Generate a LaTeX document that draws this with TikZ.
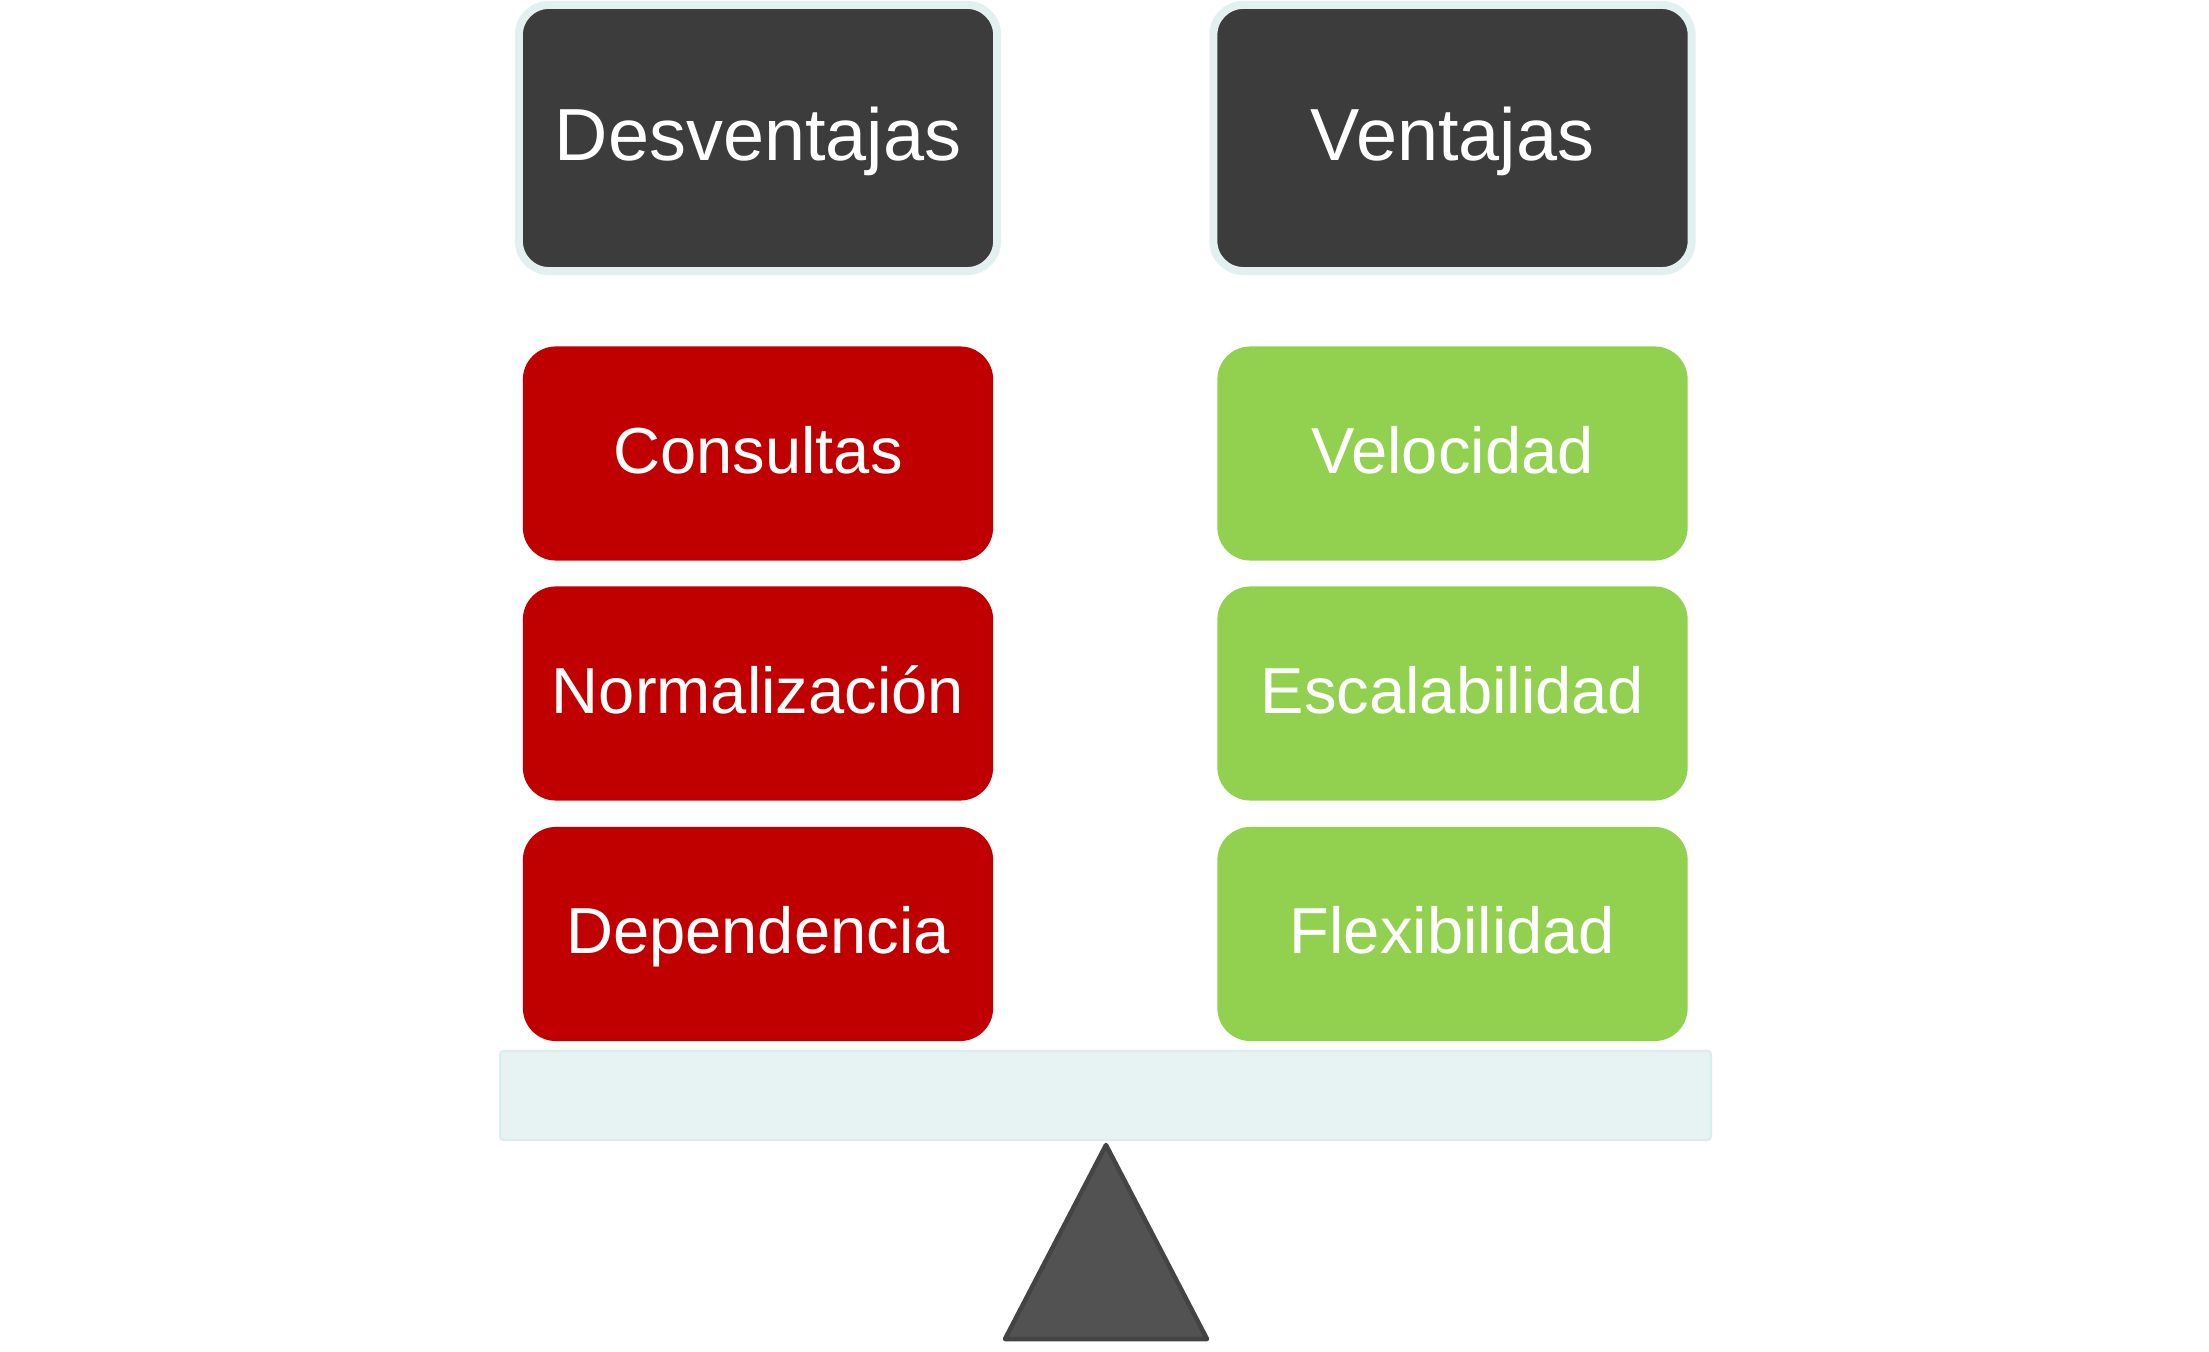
\documentclass[tikz,border=0pt]{standalone}
\usepackage{fontspec}
\setmainfont{Liberation Sans}
\definecolor{hdark}{HTML}{3C3C3C}
\definecolor{hedge}{HTML}{E2F0F0}
\definecolor{redbox}{HTML}{C00000}
\definecolor{greenbox}{HTML}{92D050}
\definecolor{beamfill}{HTML}{E7F3F3}
\definecolor{beamedge}{HTML}{DCEDED}
\definecolor{trifill}{HTML}{525252}
\definecolor{triedge}{HTML}{444444}
\begin{document}
\begin{tikzpicture}[x=0.01cm,y=-0.01cm,
  header/.style={rectangle, rounded corners=0.3cm, fill=hdark, draw=hedge, line width=0.08cm,
    minimum width=4.78cm, minimum height=2.66cm, text=white, font=\fontsize{21}{25}\selectfont,
    text height=15pt, text depth=2pt},
  item/.style={rectangle, rounded corners=0.33cm, minimum width=4.7cm, minimum height=2.14cm,
    text=white, font=\fontsize{18.5}{22}\selectfont, text height=13.3pt, text depth=2pt},
  bad/.style={item, fill=redbox},
  good/.style={item, fill=greenbox}]
\useasboundingbox (0,0) rectangle (2209,1352);
\fill[white] (0,0) rectangle (2209,1352);
\node[header] (hd) at (758,138) {Desventajas};
\node[header] (hv) at (1452.5,138) {Ventajas};
\node[bad] (r1) at (758,453.5) {Consultas};
\node[bad] (r2) at (758,693.5) {Normalización};
\node[bad] (r3) at (758,934) {Dependencia};
\node[good] (g1) at (1452.5,453.5) {Velocidad};
\node[good] (g2) at (1452.5,693.5) {Escalabilidad};
\node[good] (g3) at (1452.5,934) {Flexibilidad};
\draw[fill=beamfill, draw=beamedge, line width=0.6pt, rounded corners=1pt] (500,1051) rectangle (1711,1140);
\draw[fill=trifill, draw=triedge, line width=0.045cm, line join=round] (1106,1145) -- (1207,1339) -- (1005,1339) -- cycle;
\end{tikzpicture}
\end{document}
